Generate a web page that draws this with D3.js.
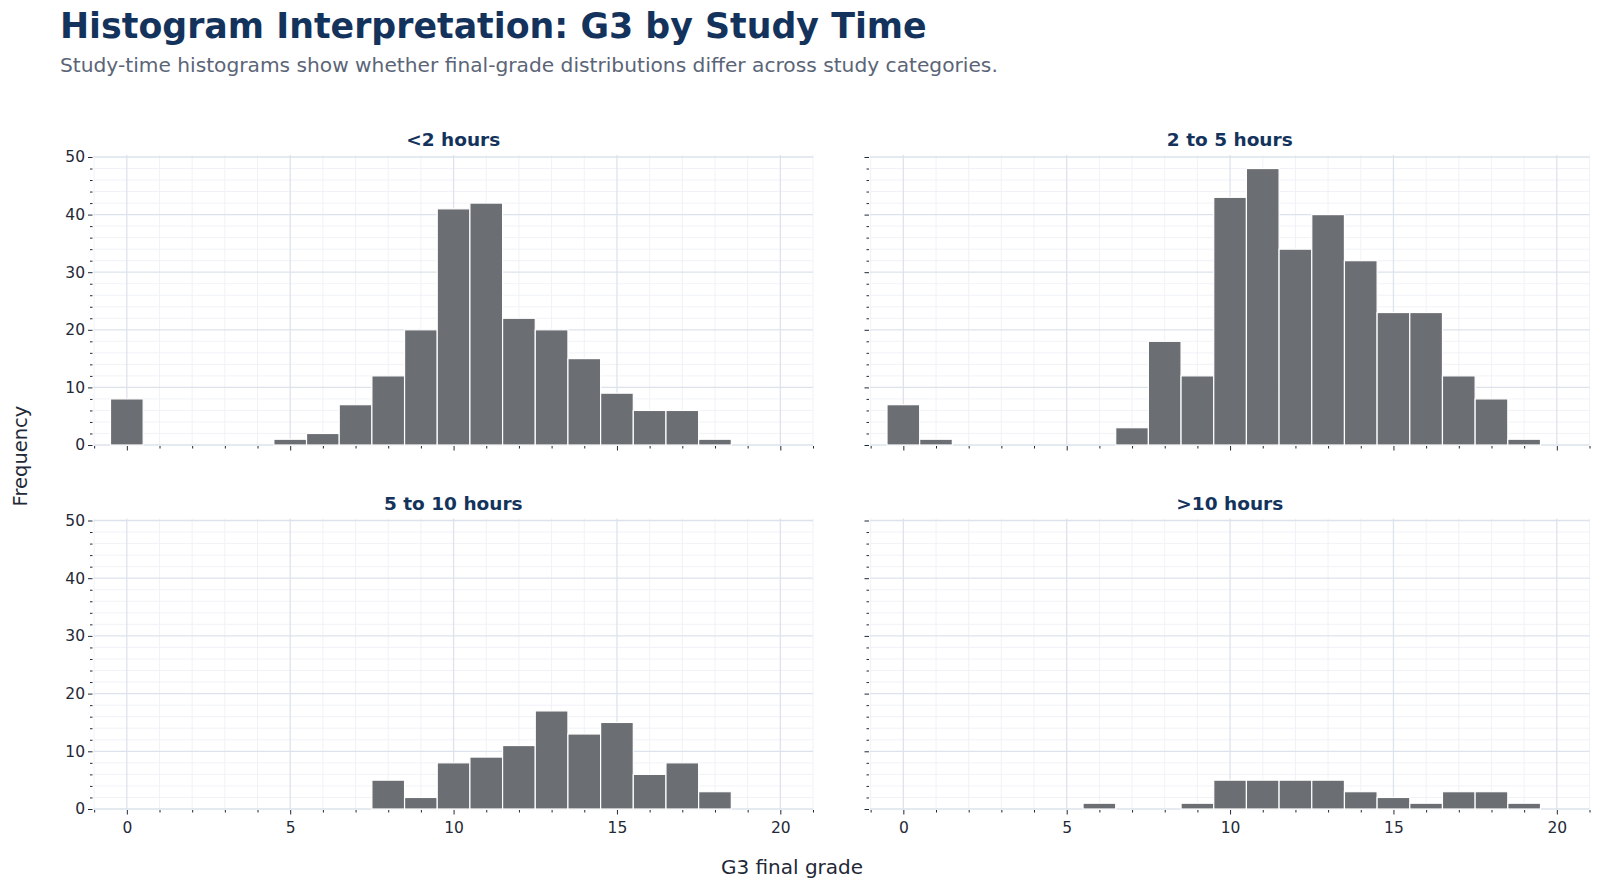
<!DOCTYPE html>
<html>
<head>
<meta charset="utf-8">
<script src="https://cdn.jsdelivr.net/npm/d3@7"></script>
<style>
  body { margin: 0; background: #fff; }
  svg { font-family: "DejaVu Sans", sans-serif; }
</style>
</head>
<body>
<script>
// grade bins (centred on integer grades, width 1)
var grades = [0, 1, 2, 3, 4, 5, 6, 7, 8, 9, 10, 11, 12, 13, 14, 15, 16, 17, 18, 19];
var panelTitles = ["<2 hours", "2 to 5 hours", "5 to 10 hours", ">10 hours"];

var countsUnder2 = [8, 0, 0, 0, 0, 1, 2, 7, 12, 20, 41, 42, 22, 20, 15, 9, 6, 6, 1, 0];
var counts2to5   = [7, 1, 0, 0, 0, 0, 0, 3, 18, 12, 43, 48, 34, 40, 32, 23, 23, 12, 8, 1];
var counts5to10  = [0, 0, 0, 0, 0, 0, 0, 0, 5, 2, 8, 9, 11, 17, 13, 15, 6, 8, 3, 0];
var countsOver10 = [0, 0, 0, 0, 0, 0, 1, 0, 0, 1, 5, 5, 5, 5, 3, 2, 1, 3, 3, 1];

var xTicks = [0, 5, 10, 15, 20];
var yTicks = [0, 10, 20, 30, 40, 50];

window.onload = () => {
  var W = 1600, H = 889;
  var svg = d3.select("body").append("svg")
    .attr("width", W)
    .attr("height", H);

  // title + subtitle
  svg.append("text")
    .attr("x", 60).attr("y", 38)
    .attr("font-size", 34.8).attr("font-weight", "bold")
    .attr("fill", "#14335c")
    .text("Histogram Interpretation: G3 by Study Time");
  svg.append("text")
    .attr("x", 60).attr("y", 72)
    .attr("font-size", 20.2)
    .attr("fill", "#5b6577")
    .text("Study-time histograms show whether final-grade distributions differ across study categories.");

  var series = [countsUnder2, counts2to5, counts5to10, countsOver10];
  var cols = [[93.5, 813], [870, 1589.5]];
  var rows = [[157, 445], [520.5, 809]];

  series.forEach(function(counts, i) {
    var c = i % 2, r = Math.floor(i / 2);
    var x = d3.scaleLinear().domain([-1.02, 21]).range(cols[c]);
    var y = d3.scaleLinear().domain([0, 50]).range([rows[r][1], rows[r][0]]);
    var g = svg.append("g");

    // minor grid
    var xMinor = d3.range(-1, 22, 1).filter(function(v) { return v % 5 !== 0 && x(v) >= cols[c][0] && x(v) <= cols[c][1]; });
    var yMinor = d3.range(0, 51, 2).filter(function(v) { return v % 10 !== 0; });
    g.selectAll(".xmin").data(xMinor).enter().append("line")
      .attr("x1", x).attr("x2", x)
      .attr("y1", rows[r][0] - 2).attr("y2", rows[r][1])
      .attr("stroke", "#eef1f6").attr("stroke-width", 0.9);
    g.selectAll(".ymin").data(yMinor).enter().append("line")
      .attr("x1", cols[c][0]).attr("x2", cols[c][1])
      .attr("y1", y).attr("y2", y)
      .attr("stroke", "#eef1f6").attr("stroke-width", 0.9);
    // major grid
    g.selectAll(".xmaj").data(xTicks).enter().append("line")
      .attr("x1", x).attr("x2", x)
      .attr("y1", rows[r][0] - 2).attr("y2", rows[r][1])
      .attr("stroke", "#dde3ec").attr("stroke-width", 1.3);
    g.selectAll(".ymaj").data(yTicks).enter().append("line")
      .attr("x1", cols[c][0]).attr("x2", cols[c][1])
      .attr("y1", y).attr("y2", y)
      .attr("stroke", "#dde3ec").attr("stroke-width", 1.3);

    // bars
    g.selectAll("rect").data(grades.filter(function(d) { return counts[d] > 0; })).enter().append("rect")
      .attr("x", function(d) { return x(d - 0.5); })
      .attr("width", function(d) { return x(d + 0.5) - x(d - 0.5); })
      .attr("y", function(d) { return y(counts[d]); })
      .attr("height", function(d) { return y(0) - y(counts[d]); })
      .attr("fill", "#6b6e73")
      .attr("stroke", "#ffffff").attr("stroke-width", 1.2);

    // axes
    var yAxis = d3.axisLeft(y).tickValues(yTicks).tickSize(4.5).tickPadding(3);
    if (c === 1) yAxis.tickFormat("");
    var ya = g.append("g").attr("transform", "translate(" + (cols[c][0] - 1) + ",0)").call(yAxis);
    var yMinAx = g.append("g").attr("transform", "translate(" + (cols[c][0] - 1) + ",0)")
      .call(d3.axisLeft(y).tickValues(yMinor).tickSize(2.5).tickFormat(""));

    var xAxis = d3.axisBottom(x).tickValues(xTicks).tickSize(4.5).tickPadding(7);
    if (r === 0) xAxis.tickFormat("");
    var xa = g.append("g").attr("transform", "translate(0," + (rows[r][1] + 1) + ")").call(xAxis);
    var xMinAx = g.append("g").attr("transform", "translate(0," + (rows[r][1] + 1) + ")")
      .call(d3.axisBottom(x).tickValues(xMinor).tickSize(2.5).tickFormat(""));

    [ya, yMinAx, xa, xMinAx].forEach(function(a) {
      a.select(".domain").remove();
      a.selectAll(".tick line").attr("stroke", "#1f2937").attr("stroke-width", 1);
      a.selectAll(".tick text").attr("font-size", 15.5).attr("fill", "#1f2937")
        .attr("font-family", "DejaVu Sans, sans-serif");
    });

    // panel title
    g.append("text")
      .attr("x", (cols[c][0] + cols[c][1]) / 2)
      .attr("y", rows[r][0] - 11)
      .attr("text-anchor", "middle")
      .attr("font-size", 18.5).attr("font-weight", "bold")
      .attr("fill", "#14335c")
      .text(panelTitles[i]);
  });

  // shared axis labels
  svg.append("text")
    .attr("transform", "translate(27,456) rotate(-90)")
    .attr("text-anchor", "middle")
    .attr("font-size", 19.5).attr("fill", "#1f2937")
    .text("Frequency");
  svg.append("text")
    .attr("x", 792).attr("y", 874)
    .attr("text-anchor", "middle")
    .attr("font-size", 20).attr("fill", "#1f2937")
    .text("G3 final grade");
};
</script>
</body>
</html>
